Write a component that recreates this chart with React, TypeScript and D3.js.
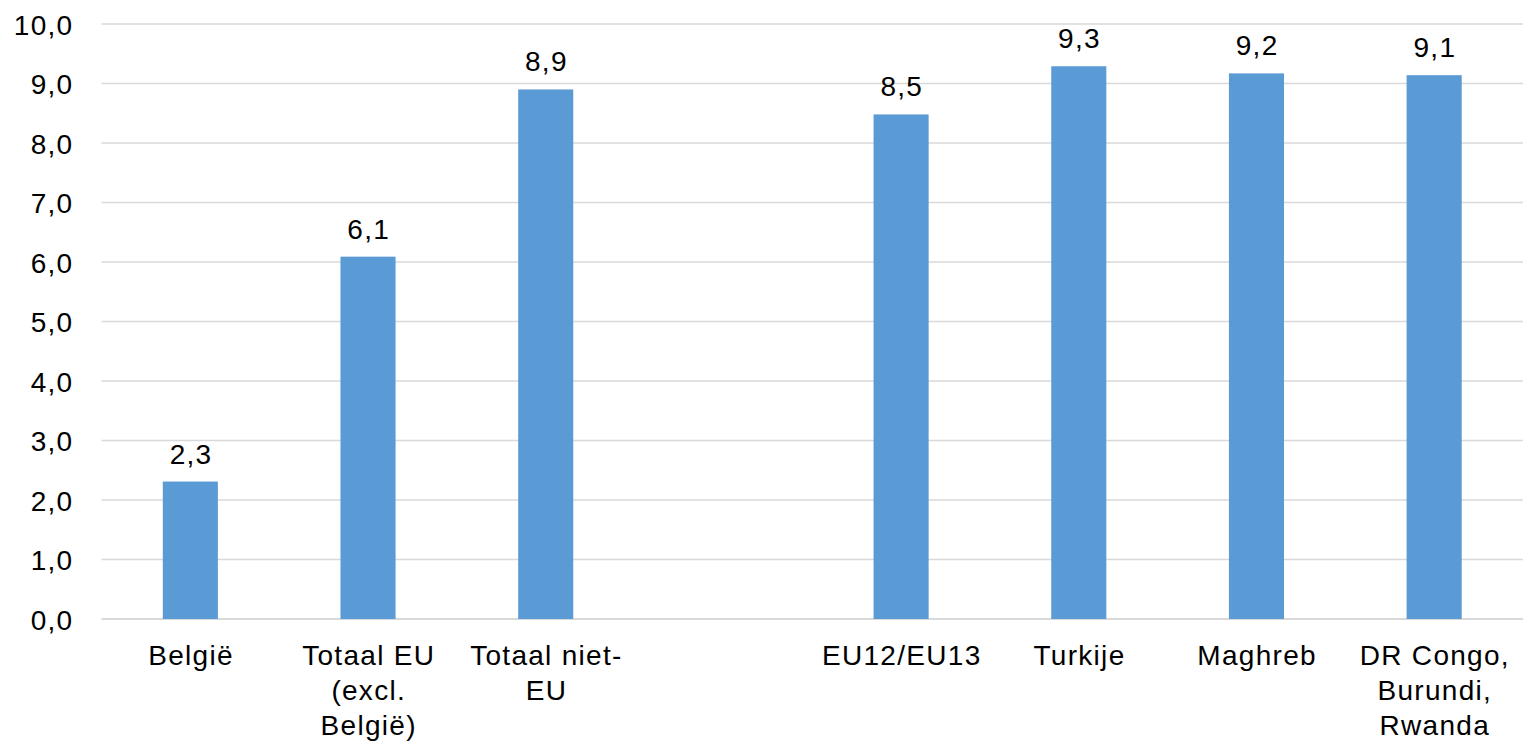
import * as d3 from "d3";

// categories, one "\n" per line break as shown under the axis
const categories: string[] = [
  "België",
  "Totaal EU\n(excl.\nBelgië)",
  "Totaal niet-\nEU",
  "",
  "EU12/EU13",
  "Turkije",
  "Maghreb",
  "DR Congo,\nBurundi,\nRwanda",
];

// null = empty slot between the two groups
const values: (number | null)[] = [2.31, 6.09, 8.9, null, 8.48, 9.29, 9.17, 9.14];

const yTicks: number[] = [0, 1, 2, 3, 4, 5, 6, 7, 8, 9, 10];

const WIDTH = 1523;
const HEIGHT = 747;
const FONT = "'Liberation Sans', Arial, Helvetica, sans-serif";
const FONT_SIZE = 28;
const TRACKING = 1.3; // the reference text runs a little wider than Arial
const BAR_COLOR = "#5b9bd5";
const GRID_COLOR = "#d9d9d9";

const nl = d3.formatLocale({
  decimal: ",",
  thousands: ".",
  grouping: [3],
  currency: ["€", ""],
});
const fmt = nl.format(".1f");

export default function App() {
  const keys = categories.map((_, i) => String(i));

  const x = d3
    .scaleBand<string>()
    .domain(keys)
    .range([101.5, 1523])
    .paddingInner(0.69)
    .paddingOuter(0.345);

  const y = d3.scaleLinear().domain([0, 10]).range([619, 24]);

  return (
    <svg
      width={WIDTH}
      height={HEIGHT}
      style={{ position: "absolute", left: 0, top: 0, background: "#fff" }}
      fontFamily={FONT}
      fontSize={FONT_SIZE}
      letterSpacing={TRACKING}
    >
      {/* gridlines */}
      {yTicks.map((t) => (
        <line
          key={"g" + t}
          x1={x.range()[0]}
          x2={x.range()[1]}
          y1={y(t)}
          y2={y(t)}
          stroke={GRID_COLOR}
          strokeWidth={t === 0 ? 2 : 1.5}
        />
      ))}

      {/* y tick labels */}
      {yTicks.map((t) => (
        <text key={"t" + t} x={73.5} y={y(t) + 10.5} textAnchor="end" fill="#000">
          {fmt(t)}
        </text>
      ))}

      {/* bars and value labels */}
      {values.map((v, i) => {
        if (v == null) return null;
        const bx = x(keys[i])!;
        const bw = x.bandwidth();
        return (
          <g key={"b" + i}>
            <rect x={bx} y={y(v)} width={bw} height={y(0) - y(v)} fill={BAR_COLOR} />
            <text x={bx + bw / 2 + 0.7} y={y(v) - 18} textAnchor="middle" fill="#000">
              {fmt(v)}
            </text>
          </g>
        );
      })}

      {/* category labels */}
      {categories.map((c, i) => {
        const cx = x(keys[i])! + x.bandwidth() / 2 + 0.7;
        return (
          <text key={"c" + i} x={cx} y={665} textAnchor="middle" fill="#000">
            {c.split("\n").map((line, j) => (
              <tspan key={j} x={cx} dy={j === 0 ? 0 : 35}>
                {line}
              </tspan>
            ))}
          </text>
        );
      })}
    </svg>
  );
}
